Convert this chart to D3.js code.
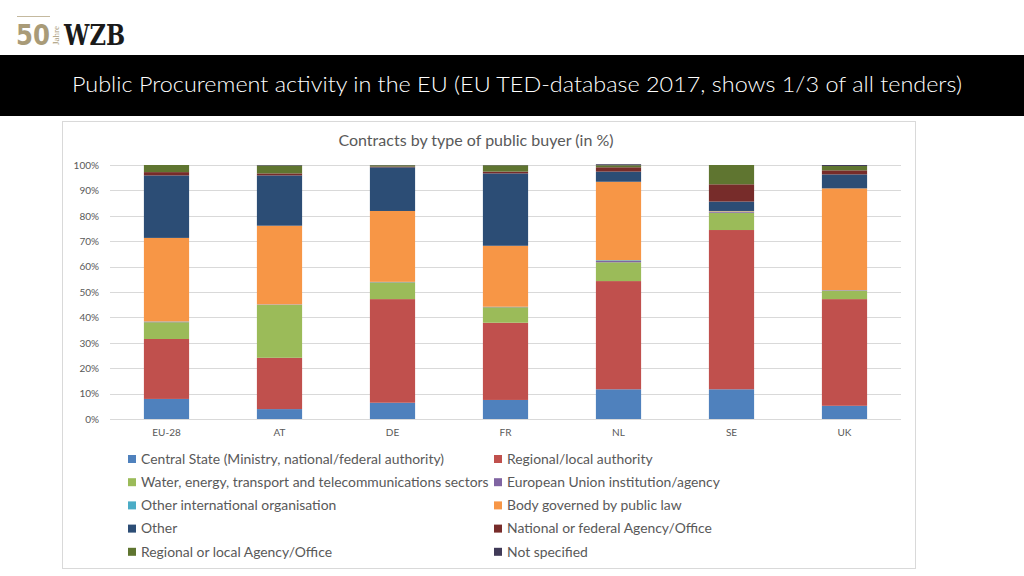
<!DOCTYPE html>
<html><head><meta charset="utf-8">
<script src="https://cdn.jsdelivr.net/npm/d3@7"></script>
<style>body{margin:0;background:#fff;}svg{display:block;}</style>
</head><body>
<svg id="c" width="1024" height="576"></svg>
<script>
const categories = ["EU-28","AT","DE","FR","NL","SE","UK"];
const seriesNames = [
  "Central State (Ministry, national/federal authority)",
  "Regional/local authority",
  "Water, energy, transport and telecommunications sectors",
  "European Union institution/agency",
  "Other international organisation",
  "Body governed by public law",
  "Other",
  "National or federal Agency/Office",
  "Regional or local Agency/Office",
  "Not specified"
];
const seriesColors = ["#4f81bd","#c0504d","#9bbb59","#8064a2","#4bacc6","#f79646","#2c4d75","#772c2a","#5f7530","#403a58"];
// values per series, in category order
const centralState   = [7.9, 3.9, 6.4, 7.5, 11.7, 11.7, 5.2];
const regionalLocal  = [23.6, 20.2, 40.8, 30.4, 42.6, 62.7, 42.0];
const waterEnergy    = [6.6, 20.8, 6.6, 6.1, 7.4, 6.8, 3.2];
const euInstitution  = [0.2, 0.1, 0.1, 0.1, 0.5, 0.3, 0.2];
const otherIntl      = [0.1, 0.1, 0.1, 0.1, 0.3, 0.2, 0.1];
const bodyPublicLaw  = [32.9, 31.0, 27.9, 24.0, 30.9, 0.2, 40.1];
const other          = [24.6, 19.8, 17.2, 28.5, 4.0, 3.7, 5.5];
const nationalAgency = [1.3, 0.8, 0.3, 0.7, 1.7, 6.8, 1.6];
const regionalAgency = [2.8, 3.1, 0.5, 2.5, 0.8, 7.6, 1.7];
const notSpecified   = [0.0, 0.2, 0.1, 0.1, 0.4, 0.0, 0.4];
const yTicks = [0,10,20,30,40,50,60,70,80,90,100];

const seriesValues = [centralState, regionalLocal, waterEnergy, euInstitution, otherIntl, bodyPublicLaw, other, nationalAgency, regionalAgency, notSpecified];
const table = categories.map((c,i)=>{const o={cat:c}; seriesNames.forEach((s,j)=>o[s]=seriesValues[j][i]); return o;});

const svg = d3.select("#c");
const FONT = "Lato, 'Open Sans', sans-serif";

// logo
const logo = svg.append("g");
logo.append("line").attr("x1",17).attr("x2",50).attr("y1",16.5).attr("y2",16.5).attr("stroke","#c4b99f").attr("stroke-width",1);
logo.append("text").attr("x",16).attr("y",45).attr("font-family","'DejaVu Sans', sans-serif").attr("font-weight",700).attr("font-size",28)
  .attr("textLength",34).attr("lengthAdjust","spacingAndGlyphs").attr("fill","#a99b78").text("50");
logo.append("text").attr("transform","translate(59,45) rotate(-90)").attr("font-family","'Liberation Serif', serif").attr("font-size",9).attr("fill","#a99b78").text("Jahre");
logo.append("text").attr("x",64).attr("y",45).attr("font-family","'DejaVu Serif', serif").attr("font-weight",700).attr("font-size",28).attr("fill","#1a1a1a").attr("textLength",61).attr("lengthAdjust","spacingAndGlyphs").text("WZB");

// header band
svg.append("rect").attr("x",0).attr("y",55).attr("width",1024).attr("height",61).attr("fill","#000");
svg.append("text").attr("x",72).attr("y",92).attr("font-family",FONT).attr("font-weight",300).attr("font-size",22).attr("fill","#fff")
  .attr("textLength",890).attr("lengthAdjust","spacingAndGlyphs")
  .text("Public Procurement activity in the EU (EU TED-database 2017, shows 1/3 of all tenders)");

// chart box
svg.append("rect").attr("x",62.5).attr("y",121.5).attr("width",853).attr("height",447).attr("fill","#fff").attr("stroke","#d9d9d9");
svg.append("text").attr("x",476).attr("y",146).attr("text-anchor","middle").attr("font-family",FONT).attr("font-size",16).attr("fill","#595959")
  .text("Contracts by type of public buyer (in %)");

const x = d3.scaleBand().domain(categories).range([110,901]).paddingInner(0.6).paddingOuter(0.3);
const y = d3.scaleLinear().domain([0,100]).range([419,165]);

// grid
svg.append("g").selectAll("line").data(yTicks).join("line")
  .attr("x1",110).attr("x2",901).attr("y1",d=>Math.round(y(d))+0.5).attr("y2",d=>Math.round(y(d))+0.5)
  .attr("stroke","#d9d9d9").attr("stroke-width",1);

// y axis
const yAxis = svg.append("g").attr("transform","translate(99,0)")
  .call(d3.axisLeft(y).tickValues(yTicks).tickFormat(d=>d+"%").tickSize(0).tickPadding(0));
yAxis.select(".domain").remove();
yAxis.selectAll("text").attr("font-family",FONT).attr("font-size",10).attr("fill","#595959");

// x axis
const xAxis = svg.append("g").attr("transform","translate(0,419)")
  .call(d3.axisBottom(x).tickSize(0).tickPadding(10));
xAxis.select(".domain").remove();
xAxis.selectAll("text").attr("font-family",FONT).attr("font-size",10).attr("fill","#595959");

// stacks
const stack = d3.stack().keys(seriesNames)(table);
svg.append("g").selectAll("g").data(stack).join("g").attr("fill",(d,i)=>seriesColors[i])
  .selectAll("rect").data(d=>d).join("rect")
  .attr("x",d=>x(d.data.cat)).attr("width",x.bandwidth())
  .attr("y",d=>y(d[1])).attr("height",d=>Math.max(0,y(d[0])-y(d[1])));

// legend
const leg = svg.append("g");
seriesNames.forEach((s,i)=>{
  const col = i%2, row = Math.floor(i/2);
  const lx = col===0?128:494, ly = 459+row*23.2;
  leg.append("rect").attr("x",lx).attr("y",ly-4).attr("width",8).attr("height",8).attr("fill",seriesColors[i]);
  leg.append("text").attr("x",lx+13).attr("y",ly).attr("dy","0.35em").attr("font-family",FONT).attr("font-size",13.9).attr("fill","#595959").text(s);
});
</script>
</body></html>
